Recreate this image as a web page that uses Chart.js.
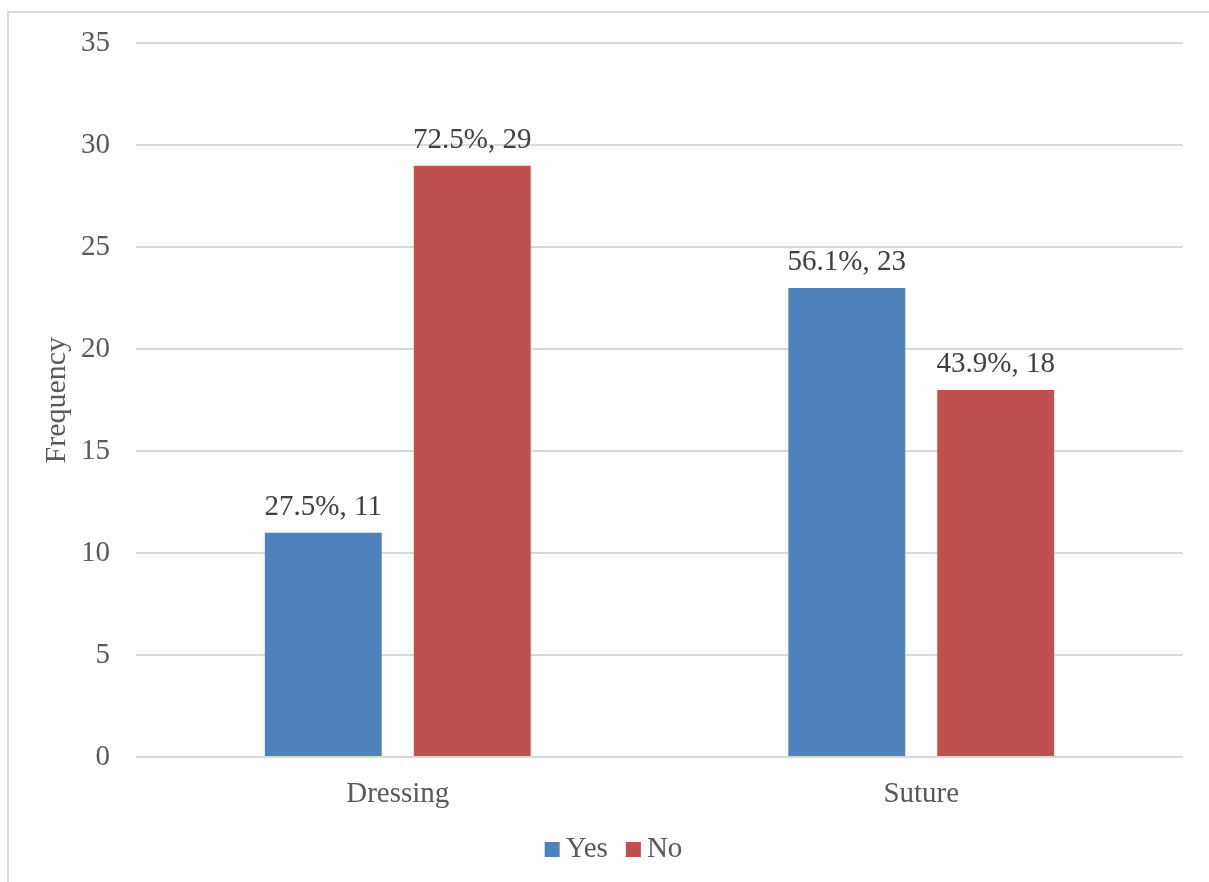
<!DOCTYPE html>
<html>
<head>
<meta charset="utf-8">
<script src="https://cdn.jsdelivr.net/npm/chart.js@4/dist/chart.umd.min.js"></script>
<style>
  html, body { margin: 0; padding: 0; background: #ffffff; overflow: hidden; width: 1209px; height: 882px; }
  #frame { position: absolute; left: 7px; top: 11px; width: 1400px; height: 1000px; border: 2px solid #d9d9d9; box-sizing: border-box; }
  #c { position: absolute; left: 0; top: 0; }
</style>
</head>
<body>
<div id="frame"></div>
<canvas id="c" width="1209" height="882"></canvas>
<script>
const categories = ['Dressing', 'Suture'];
const yesValues = [11, 23];
const noValues = [29, 18];
const yesPercents = ['27.5%', '56.1%'];
const noPercents = ['72.5%', '43.9%'];
const seriesNames = ['Yes', 'No'];
const yTicks = [0, 5, 10, 15, 20, 25, 30, 35];
const yTitle = 'Frequency';

const FONT = '"Liberation Serif", "Times New Roman", serif';
const percentsBySeries = [yesPercents, noPercents];

const dataLabelPlugin = {
  id: 'dataLabels',
  afterDatasetsDraw(chart) {
    const ctx = chart.ctx;
    ctx.save();
    ctx.font = '29px ' + FONT;
    ctx.fillStyle = '#404040';
    ctx.textAlign = 'center';
    ctx.textBaseline = 'alphabetic';
    chart.data.datasets.forEach((ds, di) => {
      const meta = chart.getDatasetMeta(di);
      meta.data.forEach((bar, i) => {
        const txt = percentsBySeries[di][i] + ', ' + ds.data[i];
        ctx.fillText(txt, bar.x, bar.y - 18);
      });
    });
    ctx.restore();
  }
};

const legendPlugin = {
  id: 'customLegend',
  afterDraw(chart) {
    const ctx = chart.ctx;
    ctx.save();
    ctx.font = '29px ' + FONT;
    ctx.textBaseline = 'alphabetic';
    ctx.textAlign = 'left';
    const box = 15, gapText = 6, gapItem = 18;
    const items = chart.data.datasets.map(ds => ({ label: ds.label, color: ds.backgroundColor, w: ctx.measureText(ds.label).width }));
    let total = 0;
    items.forEach((it, i) => { total += box + gapText + it.w + (i < items.length - 1 ? gapItem : 0); });
    let x = 613.5 - total / 2;
    const baseline = 857;
    items.forEach(it => {
      ctx.fillStyle = it.color;
      ctx.fillRect(x, 842, box, box);
      x += box + gapText;
      ctx.fillStyle = '#595959';
      ctx.fillText(it.label, x, baseline);
      x += it.w + gapItem;
    });
    ctx.restore();
  }
};

new Chart(document.getElementById('c'), {
  type: 'bar',
  data: {
    labels: categories,
    datasets: [
      { label: seriesNames[0], data: yesValues, backgroundColor: '#4f81bd', categoryPercentage: 0.569, barPercentage: 0.785 },
      { label: seriesNames[1], data: noValues, backgroundColor: '#c0504d', categoryPercentage: 0.569, barPercentage: 0.785 }
    ]
  },
  options: {
    responsive: false,
    animation: false,
    devicePixelRatio: 1,
    layout: { padding: { left: 0, right: 26, top: 41, bottom: 65 } },
    plugins: {
      legend: { display: false },
      tooltip: { enabled: false }
    },
    scales: {
      x: {
        grid: { display: false, drawTicks: false },
        border: { display: false },
        ticks: { color: '#595959', font: { family: FONT, size: 29 }, padding: 20 },
        afterFit(scale) { scale.height = 60; }
      },
      y: {
        min: 0,
        max: 35,
        afterBuildTicks(scale) { scale.ticks = yTicks.map(v => ({ value: v })); },
        grid: { color: '#d9d9d9', lineWidth: 2, drawTicks: false },
        border: { display: false },
        ticks: { color: '#595959', font: { family: FONT, size: 29 }, padding: 26 },
        title: { display: true, text: yTitle, color: '#595959', font: { family: FONT, size: 30 }, padding: { top: 39, bottom: 0 } },
        afterFit(scale) { scale.width = 136; }
      }
    }
  },
  plugins: [dataLabelPlugin, legendPlugin]
});
</script>
</body>
</html>
